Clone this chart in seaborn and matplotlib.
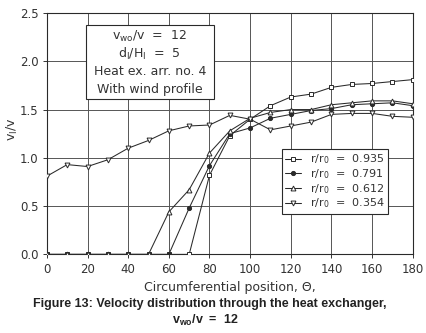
import numpy as np
import pandas as pd
import matplotlib
matplotlib.use("Agg")
import matplotlib.pyplot as plt
from matplotlib.patches import Rectangle
import seaborn as sns

# circumferential position (deg)
theta = [0, 10, 20, 30, 40, 50, 60, 70, 80, 90, 100, 110, 120, 130, 140, 150, 160, 170, 180]

# v_l / v for each radius ratio
v_0935 = [0, 0, 0, 0, 0, 0, 0, 0, 0.82, 1.23, 1.40, 1.54, 1.63, 1.66, 1.73, 1.76, 1.77, 1.79, 1.81]
v_0791 = [0, 0, 0, 0, 0, 0, 0, 0.48, 0.92, 1.25, 1.31, 1.41, 1.45, 1.49, 1.51, 1.55, 1.56, 1.57, 1.54]
v_0612 = [0, 0, 0, 0, 0, 0, 0.44, 0.67, 1.05, 1.28, 1.41, 1.47, 1.50, 1.50, 1.55, 1.57, 1.59, 1.59, 1.56]
v_0354 = [0.81, 0.93, 0.91, 0.98, 1.10, 1.18, 1.28, 1.33, 1.34, 1.44, 1.40, 1.29, 1.33, 1.37, 1.45, 1.46, 1.46, 1.43, 1.42]

series_labels = ["0.935", "0.791", "0.612", "0.354"]
series_values = [v_0935, v_0791, v_0612, v_0354]
series_markers = ["s", "o", "^", "v"]
series_filled = [False, True, False, False]

box_lines = [r"$v_{wo}/v$  =  12", r"$d_l/H_l$  =  5", "Heat ex. arr. no. 4", "With wind profile"]

sns.set_style("ticks")
plt.rcParams["font.family"] = ["DejaVu Sans"]
plt.rcParams["mathtext.default"] = "regular"

ink = "#2a2a2a"
txt = "#333333"

fig = plt.figure(figsize=(4.26, 3.33), dpi=100)
ax = fig.add_axes([0.110, 0.236, 0.859, 0.725])

for lab, vals, mk, filled in zip(series_labels, series_values, series_markers, series_filled):
    df = pd.DataFrame({"theta": theta, "v": vals})
    sns.lineplot(data=df, x="theta", y="v", ax=ax, color=ink, linewidth=0.75,
                 marker=mk, markersize=3.5 if mk != "o" else 3,
                 markerfacecolor=ink if filled else "white",
                 markeredgecolor=ink, markeredgewidth=0.7,
                 label=r"$r/r_0$  =  " + lab, zorder=3)

ax.set_xlim(0, 180)
ax.set_ylim(0, 2.5)
ax.set_xticks(np.arange(0, 181, 20))
ax.set_yticks(np.arange(0, 2.51, 0.5))
ax.set_yticklabels([f"{v:.1f}" for v in np.arange(0, 2.51, 0.5)])
ax.grid(True, color="#555555", linewidth=0.7)
ax.set_axisbelow(True)
for sp in ax.spines.values():
    sp.set_color(ink)
    sp.set_linewidth(0.8)
ax.tick_params(labelsize=8.5, colors=txt, length=3, width=0.7, pad=3)

ax.set_xlabel("Circumferential position, Θ,", fontsize=9, color=txt, labelpad=4)
ax.set_ylabel(r"$v_l/v$", fontsize=9, color=txt)
ax.yaxis.set_label_coords(-0.074, 0.52)

# annotation box
ax.add_patch(Rectangle((19.1, 1.61), 63.1, 0.77, facecolor="white", edgecolor=ink,
                       linewidth=0.8, zorder=5))
for line, yv in zip(box_lines, [2.26, 2.075, 1.89, 1.71]):
    ax.text(50.6, yv, line, ha="center", va="center", fontsize=9, color=txt, zorder=6)

leg = ax.legend(loc="upper right", bbox_to_anchor=(0.932, 0.436), fontsize=8,
                frameon=True, fancybox=False, edgecolor=ink, framealpha=1,
                handlelength=1.4, handletextpad=0.8, borderpad=0.3, labelspacing=0.08,
                borderaxespad=0)
leg.get_frame().set_linewidth(0.8)
for t in leg.get_texts():
    t.set_color(txt)

fig.text(0.492, 0.087, "Figure 13: Velocity distribution through the heat exchanger,",
         ha="center", va="center", fontsize=9, fontweight="bold",
         family=["Liberation Sans"], color="#222222")
fig.text(0.483, 0.038, r"$v_{wo}/v$  =  12", ha="center", va="center", fontsize=9,
         fontweight="bold", family=["Liberation Sans"], color="#222222")

fig.savefig("out.png", dpi=100)
